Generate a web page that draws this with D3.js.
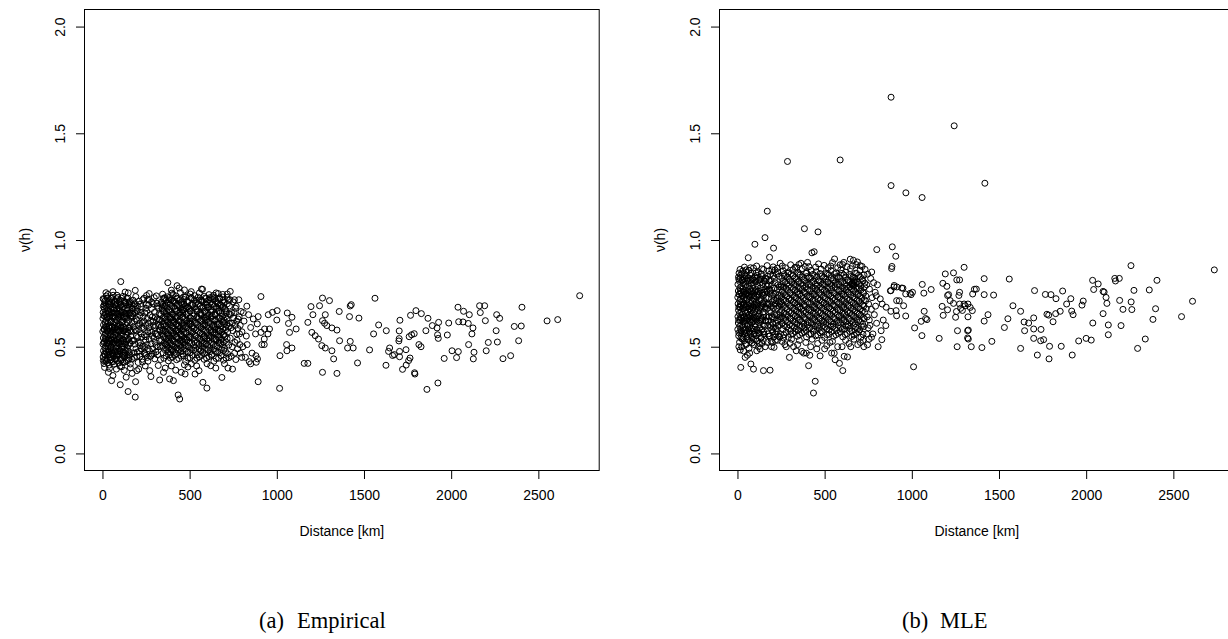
<!DOCTYPE html>
<html>
<head>
<meta charset="utf-8">
<script src="https://cdn.jsdelivr.net/npm/d3@7"></script>
<style>
  html, body { margin: 0; padding: 0; background: #fff; }
  svg { display: block; }
</style>
</head>
<body>
<svg id="chart" width="1228" height="639"></svg>
<script>
// ---- data: [distance in km, v(h)] for each station pair ----
const empirical = [
  // 0-170 km
  [8,.722],[22,.738],[35,.709],[47,.727],[61,.741],[74,.713],[88,.731],[103,.718],[118,.736],[131,.706],[146,.728],[160,.712],
  [5,.688],[14,.706],[26,.683],[33,.699],[44,.692],[53,.708],[66,.679],[72,.697],[85,.702],[96,.684],[107,.699],[121,.688],[129,.707],[140,.682],[152,.696],[166,.701],
  [4,.661],[11,.677],[19,.652],[29,.668],[38,.663],[46,.676],[57,.657],[63,.671],[77,.659],[82,.678],[94,.653],[101,.669],[113,.662],[124,.674],[133,.656],[145,.672],[158,.658],[170,.676],
  [3,.632],[12,.646],[21,.623],[27,.641],[36,.628],[43,.647],[52,.619],[60,.637],[69,.644],[79,.626],[89,.639],[98,.631],[108,.648],[117,.618],[126,.636],[137,.643],[149,.624],[161,.641],
  [6,.602],[15,.614],[23,.593],[31,.611],[40,.598],[49,.617],[55,.589],[65,.604],[73,.613],[84,.596],[92,.608],[104,.601],[111,.616],[120,.592],[131,.607],[142,.612],[155,.594],[168,.609],
  [2,.571],[10,.584],[18,.563],[25,.582],[34,.568],[42,.586],[50,.559],[59,.576],[67,.583],[76,.564],[86,.579],[95,.572],[105,.587],[114,.558],[123,.574],[134,.584],[146,.566],[159,.578],
  [5,.541],[13,.553],[20,.533],[30,.552],[37,.538],[45,.556],[54,.529],[62,.547],[71,.554],[80,.534],[90,.548],[99,.542],[109,.557],[119,.528],[128,.546],[139,.553],[150,.536],[163,.549],
  [3,.512],[11,.524],[19,.503],[28,.521],[35,.508],[44,.526],[51,.499],[61,.516],[68,.523],[78,.504],[87,.519],[97,.511],[106,.527],[116,.498],[125,.514],[136,.524],[148,.506],[157,.518],
  [6,.481],[14,.494],[24,.473],[32,.491],[41,.478],[48,.496],[58,.469],[64,.486],[75,.493],[83,.474],[93,.489],[102,.482],[112,.497],[122,.468],[132,.484],[143,.492],[154,.476],
  [4,.452],[16,.463],[25,.443],[37,.461],[47,.448],[56,.466],[70,.441],[81,.457],[91,.464],[103,.444],[115,.459],[127,.451],[140,.462],[152,.446],
  [9,.421],[22,.433],[39,.414],[53,.429],[68,.418],[85,.436],[100,.409],[118,.426],[137,.433],[160,.419],
  [4,.725],[15,.715],[28,.728],[41,.713],[54,.726],[68,.712],[81,.725],[95,.711],[110,.727],[124,.714],[139,.726],[153,.71],
  [9,.695],[20,.69],[38,.698],[59,.687],[79,.693],[101,.692],[115,.684],[135,.697],[159,.688],
  [8,.645],[16,.66],[24,.638],[33,.655],[41,.642],[50,.66],[58,.641],[67,.657],[74,.638],[86,.654],[96,.645],[106,.66],[119,.64],[130,.653],[141,.637],[153,.652],[165,.646],
  [9,.58],[17,.595],[27,.574],[37,.59],[46,.574],[56,.593],[63,.57],[71,.588],[80,.58],[90,.595],[100,.574],[108,.592],[118,.575],[127,.59],[138,.571],[151,.588],[165,.572],
  [8,.52],[16,.537],[24,.515],[33,.531],[41,.517],[49,.537],[57,.512],[66,.532],[74,.516],[85,.533],[95,.52],[103,.538],[113,.514],[122,.53],[133,.512],[145,.534],[160,.515],
  [10,.465],[19,.478],[29,.46],[36,.476],[45,.464],[53,.48],[62,.458],[72,.475],[80,.46],[88,.478],[98,.466],[108,.48],[119,.459],[130,.472],[146,.48],[158,.462],
  [13,.437],[30,.425],[46,.438],[62,.43],[77,.442],[94,.424],[109,.438],[127,.428],[147,.436],
  // 170-335 km
  [175,.718],[188,.702],[197,.668],[210,.713],[224,.688],[238,.727],[252,.698],[268,.721],[281,.679],
  [172,.641],[185,.659],[199,.622],[214,.647],[229,.611],[243,.658],[258,.632],[274,.649],[290,.618],
  [178,.592],[193,.574],[207,.601],[221,.561],[236,.586],[250,.547],[266,.589],[283,.568],
  [171,.528],[186,.512],[202,.543],[217,.519],[232,.502],[247,.531],[262,.491],[279,.514],[295,.539],
  [180,.471],[196,.454],[212,.479],[228,.441],[245,.466],[261,.432],[277,.456],[294,.468],[170,.442],[205,.426],
  [298,.661],[305,.598],[312,.703],[318,.552],[325,.629],[331,.501],[302,.521],[309,.738],[316,.462],[322,.681],[328,.578],[300,.443],[320,.412],
  [177,.69],[183,.62],[191,.735],[195,.55],[204,.665],[209,.58],[218,.70],[223,.49],[233,.64],[240,.555],[249,.68],[256,.51],[264,.61],[272,.575],[286,.64],
  [292,.70],[300,.59],[307,.475],[314,.63],[327,.53],[334,.70],[182,.45],[215,.455],[250,.46],[288,.49],[333,.44],[192,.49],[226,.59],[259,.72],[311,.56],
  [174,.655],[181,.70],[187,.58],[194,.63],[201,.69],[206,.52],[213,.61],[220,.66],[226,.545],[231,.72],[237,.62],[242,.50],[248,.60],[254,.665],[260,.57],
  [265,.695],[270,.48],[276,.62],[282,.71],[287,.55],[293,.60],[297,.73],[303,.64],[308,.505],[315,.69],[321,.60],[326,.655],[332,.575],[180,.53],[199,.475],
  [216,.505],[239,.47],[257,.45],[268,.535],[284,.465],[304,.56],[318,.50],[329,.625],[189,.675],[253,.74],
  [105,.805],[31,.745],[60,.758],[83,.741],[148,.752],[130,.756],[188,.764],[268,.749],[20,.753],
  [5,.435],[12,.403],[34,.38],[52,.341],[102,.322],[147,.29],[188,.264],[190,.336],[136,.357],[197,.388],[208,.395],[271,.388],[278,.36],
  [160,.401],[110,.406],[60,.365],[80,.395],[230,.428],[245,.41],[40,.398],[125,.389],[170,.375],
  // 335-740 km
  [345,.746],[372,.734],[398,.751],[421,.738],[447,.754],[476,.733],[503,.747],[529,.739],[556,.752],[584,.736],[611,.744],[637,.741],[664,.749],[690,.733],[716,.747],
  [338,.709],[356,.726],[377,.703],[393,.719],[411,.712],[430,.724],[452,.706],[468,.721],[489,.708],[511,.727],[534,.704],[552,.718],[573,.711],[595,.726],[616,.703],[633,.721],[655,.709],[674,.723],[697,.706],[722,.718],
  [342,.681],[361,.694],[380,.674],[399,.692],[417,.678],[437,.697],[457,.673],[474,.691],[496,.679],[517,.694],[538,.676],[559,.689],[579,.682],[600,.696],[621,.674],[640,.688],[661,.681],[681,.693],[703,.677],[728,.691],
  [336,.652],[353,.664],[371,.643],[389,.661],[406,.648],[424,.667],[443,.646],[461,.658],[482,.651],[503,.666],[524,.644],[544,.662],[565,.649],[586,.663],[605,.646],[626,.661],[647,.648],[667,.666],[688,.643],[710,.659],[735,.651],
  [340,.621],[358,.636],[375,.614],[392,.632],[410,.618],[428,.637],[447,.616],[465,.628],[486,.622],[507,.634],[528,.613],[548,.631],[569,.619],[590,.637],[610,.614],[630,.628],[651,.623],[672,.633],[692,.616],[714,.629],
  [337,.592],[355,.604],[372,.583],[390,.601],[407,.588],[425,.606],[444,.586],[463,.598],[483,.591],[504,.607],[525,.584],[545,.602],[566,.589],[587,.603],[607,.586],[628,.599],[648,.592],[669,.606],[690,.583],[712,.601],[738,.589],
  [341,.561],[359,.574],[376,.553],[394,.572],[412,.558],[430,.576],[449,.556],[467,.568],[488,.562],[509,.574],[530,.554],[550,.571],[571,.559],[592,.577],[612,.553],[633,.568],[654,.562],[675,.574],[696,.556],[718,.569],
  [339,.531],[357,.544],[374,.523],[392,.541],[409,.528],[427,.546],[446,.526],[465,.538],[485,.532],[506,.547],[527,.524],[547,.541],[568,.529],[589,.543],[609,.526],[630,.539],[650,.532],[671,.546],[693,.523],[715,.538],
  [344,.502],[362,.514],[379,.493],[397,.511],[414,.498],[433,.516],[451,.496],[470,.508],[491,.502],[512,.517],[533,.494],[553,.511],[574,.499],[595,.513],[615,.496],[636,.509],[657,.502],[678,.516],[700,.493],[724,.508],
  [348,.471],[368,.486],[387,.463],[405,.481],[423,.468],[441,.487],[461,.466],[481,.478],[502,.472],[523,.484],[544,.463],[565,.481],[586,.469],[607,.486],[628,.464],[650,.478],[672,.472],[695,.483],[718,.466],
  [352,.446],[378,.434],[401,.451],[425,.439],[452,.456],[477,.431],[503,.447],[529,.436],[556,.452],[583,.441],[611,.454],[639,.432],[666,.446],[694,.437],[725,.449],
  [349,.726],[366,.718],[385,.731],[405,.715],[426,.727],[446,.72],[466,.733],[487,.716],[508,.729],[528,.719],[549,.732],[570,.716],[590,.728],[611,.72],[631,.733],[652,.716],[673,.728],[694,.719],[715,.731],
  [347,.697],[368,.686],[388,.699],[408,.684],[428,.697],[448,.687],[468,.70],[489,.685],[510,.697],[530,.688],[551,.701],[571,.684],[592,.697],[612,.687],[632,.70],[653,.685],[674,.697],[695,.688],[716,.701],
  [345,.667],[364,.655],[384,.669],[403,.654],[422,.666],[442,.657],[462,.67],[482,.653],[502,.667],[523,.656],[543,.669],[564,.654],[584,.666],[604,.657],[625,.67],[645,.653],[666,.667],[686,.656],[707,.669],[728,.654],
  [349,.637],[367,.626],[386,.64],[405,.624],[424,.637],[443,.627],[462,.639],[482,.625],[502,.637],[522,.628],[542,.64],[563,.624],[583,.637],[603,.627],[624,.639],[644,.625],[665,.637],[685,.628],[706,.64],
  [346,.607],[365,.596],[383,.609],[402,.594],[420,.606],[439,.597],[458,.61],[477,.595],[497,.607],[517,.598],[537,.611],[557,.594],[577,.606],[597,.597],[618,.609],[638,.595],[659,.607],[680,.598],[701,.61],[724,.596],
  [350,.577],[368,.566],[386,.579],[404,.564],[422,.577],[440,.567],[459,.58],[478,.565],[498,.577],[518,.568],[539,.58],[560,.564],[580,.577],[601,.567],[622,.579],[643,.565],[664,.577],[685,.568],[707,.58],
  [348,.547],[366,.536],[384,.549],[401,.534],[419,.546],[437,.537],[455,.55],[475,.535],[495,.547],[516,.538],[537,.55],[557,.534],[578,.546],[599,.537],[619,.549],[640,.535],[661,.547],[682,.538],[704,.55],
  [352,.517],[370,.506],[388,.519],[406,.504],[424,.516],[442,.507],[461,.52],[480,.505],[501,.517],[522,.508],[543,.52],[563,.504],[584,.516],[605,.507],[626,.519],[647,.505],[668,.517],[689,.508],[711,.52],
  [356,.487],[377,.476],[396,.489],[414,.474],[432,.486],[451,.477],[471,.49],[491,.475],[512,.487],[533,.478],[554,.49],[575,.474],[596,.486],[617,.477],[639,.489],[661,.475],[683,.487],[706,.478],
  [365,.458],[390,.447],[413,.46],[438,.445],[464,.458],[490,.447],[516,.46],[542,.446],[569,.459],[597,.447],[625,.46],[652,.445],[680,.458],[709,.447],
  [350,.69],[366,.60],[383,.72],[401,.55],[419,.64],[436,.58],[455,.70],[472,.52],[493,.66],[515,.59],[364,.51],[386,.63],[405,.745],[428,.495],[448,.56],[466,.675],[484,.61],
  [347,.575],[369,.665],[395,.485],[414,.705],[439,.62],[458,.53],[477,.735],[498,.545],[357,.73],[381,.54],[403,.61],[422,.575],[445,.665],[463,.585],[480,.68],[500,.62],[517,.70],
  [562,.66],[578,.595],[596,.71],[612,.54],[629,.645],[645,.58],[662,.70],[679,.53],[698,.625],[571,.515],[589,.625],[604,.685],[622,.57],[641,.725],[659,.605],[676,.66],[694,.555],
  [566,.72],[584,.55],[600,.64],[618,.73],[637,.60],[653,.535],[670,.575],[688,.685],[706,.59],
  [728,.61],[733,.54],[741,.66],[744,.50],[748,.575],[752,.635],[758,.47],[762,.60],[767,.69],[772,.53],[777,.585],[784,.64],[788,.51],[795,.665],[799,.45],
  [731,.72],[739,.455],[757,.72],[769,.62],[786,.56],
  [375,.80],[428,.786],[574,.769],[509,.758],[733,.759],[652,.752],[470,.766],[568,.77],[690,.745],[440,.775],[395,.765],
  [328,.344],[385,.349],[407,.341],[434,.274],[443,.255],[452,.38],[474,.372],[531,.372],[554,.388],[576,.333],[599,.306],[621,.411],[685,.356],[746,.395],
  [360,.40],[395,.41],[420,.39],[490,.405],[510,.42],[540,.41],[600,.42],[650,.40],[700,.42],[720,.40],[350,.38],[470,.415],
  // 740-1400 km
  [755,.66],[763,.68],[778,.63],[790,.60],[800,.57],[812,.62],[825,.55],[838,.65],[850,.59],[760,.52],[775,.49],[790,.47],[805,.50],[820,.45],[842,.43],[858,.47],
  [770,.56],[745,.61],[750,.71],[782,.72],[808,.66],[828,.69],[865,.63],[830,.51],[850,.42],[765,.44],
  [909,.735],[893,.641],[888,.607],[951,.65],[975,.661],[1002,.669],[1000,.625],[909,.567],[930,.583],[949,.56],[958,.583],[878,.56],[928,.536],[914,.51],[928,.51],
  [880,.458],[882,.427],[889,.443],[893,.336],[1016,.305],[1018,.458],[1060,.658],[1067,.609],[1073,.567],[1111,.583],[1087,.638],[1056,.51],[1058,.481],[1087,.494],
  [1157,.422],[1178,.422],[1196,.688],[1245,.692],[1262,.728],[1302,.716],[1178,.614],[1207,.65],[1278,.65],[1262,.622],[1274,.61],[1287,.599],[1316,.588],[1345,.578],
  [1201,.567],[1220,.552],[1239,.536],[1258,.505],[1278,.494],[1316,.481],[1326,.443],[1262,.38],[1345,.375],[1358,.665],[1360,.528],
  // beyond 1400 km
  [2737,.739],[2611,.627],[2550,.621],[2406,.685],[2402,.597],[2387,.528],[2362,.595],[2341,.458],[2297,.444],[2278,.633],[2265,.522],[2261,.65],[2258,.575],
  [2213,.52],[2201,.481],[2196,.622],[2192,.692],[2167,.66],[2163,.692],[2131,.474],[2127,.443],[2125,.588],[2119,.56],[2104,.65],[2100,.51],[2098,.609],
  [2071,.666],[2068,.616],[2043,.617],[2041,.477],[2039,.685],[2031,.449],[2005,.481],[1986,.611],[1978,.555],[1960,.445],[1928,.614],[1926,.539],[1924,.33],
  [1922,.556],[1919,.588],[1892,.599],[1867,.633],[1861,.30],[1855,.575],[1829,.655],[1827,.50],[1815,.51],[1798,.669],[1792,.372],[1790,.378],[1788,.561],
  [1773,.556],[1767,.647],[1764,.447],[1759,.547],[1756,.435],[1742,.414],[1741,.486],[1721,.394],[1706,.624],[1704,.478],[1704,.453],[1702,.574],[1702,.538],
  [1700,.527],[1674,.463],[1664,.459],[1647,.494],[1641,.478],[1628,.575],[1626,.413],[1584,.602],[1563,.727],[1555,.56],[1532,.485],[1471,.634],[1463,.424],
  [1438,.494],[1427,.697],[1421,.691],[1421,.525],[1417,.641],[1406,.494]
];

const mle = [
  // 0-170 km
  [6,.826],[19,.837],[31,.814],[44,.831],[58,.819],[71,.836],[85,.813],[99,.827],[113,.834],[128,.816],[144,.829],[161,.821],
  [3,.792],[12,.806],[24,.784],[35,.801],[46,.789],[57,.807],[68,.783],[80,.798],[91,.792],[104,.804],[117,.786],[130,.799],[143,.791],[157,.806],[170,.784],
  [5,.761],[14,.776],[22,.754],[32,.771],[41,.758],[50,.777],[61,.753],[70,.769],[79,.762],[89,.774],[100,.756],[109,.768],[120,.761],[132,.776],[145,.753],[158,.771],[168,.759],
  [2,.731],[10,.746],[18,.724],[27,.741],[37,.728],[45,.747],[55,.723],[64,.738],[74,.732],[83,.744],[94,.726],[103,.739],[112,.731],[124,.746],[137,.723],[150,.741],[163,.729],
  [4,.701],[13,.716],[21,.694],[30,.711],[39,.698],[48,.717],[58,.693],[67,.708],[77,.702],[86,.714],[96,.696],[106,.709],[116,.701],[127,.716],[140,.693],[153,.711],[166,.699],
  [6,.671],[15,.686],[24,.664],[33,.681],[42,.668],[52,.687],[60,.663],[71,.678],[80,.672],[90,.684],[99,.666],[110,.679],[121,.671],[134,.686],[147,.663],[160,.681],
  [3,.641],[11,.656],[20,.634],[29,.651],[38,.638],[47,.657],[56,.633],[65,.648],[75,.642],[84,.654],[93,.636],[103,.649],[114,.641],[125,.656],[138,.633],[151,.651],[165,.639],
  [5,.611],[16,.626],[25,.604],[35,.621],[44,.608],[54,.627],[63,.603],[73,.618],[82,.612],[92,.624],[101,.606],[111,.619],[123,.611],[136,.626],[149,.603],[162,.621],
  [2,.581],[13,.596],[23,.574],[34,.591],[46,.578],[57,.597],[68,.573],[79,.588],[91,.582],[102,.594],[115,.576],[128,.589],[141,.581],[155,.596],
  [7,.551],[19,.566],[31,.544],[43,.561],[55,.548],[68,.567],[81,.543],[95,.558],[108,.552],[122,.564],[137,.546],[152,.559],
  [12,.521],[28,.536],[46,.514],[63,.531],[84,.518],[104,.534],[126,.516],[148,.529],
  [9,.845],[27,.842],[52,.848],[79,.844],[107,.846],[136,.841],
  [8,.815],[17,.822],[28,.812],[40,.818],[51,.81],[63,.823],[75,.811],[87,.819],[97,.81],[110,.821],[123,.812],[137,.818],[151,.81],[165,.816],
  [9,.745],[17,.76],[26,.738],[36,.755],[47,.741],[58,.762],[69,.744],[81,.756],[92,.738],[104,.761],[116,.743],[128,.758],[142,.741],[156,.755],
  [8,.685],[17,.70],[27,.678],[36,.695],[46,.683],[56,.701],[66,.678],[76,.69],[88,.68],[98,.70],[109,.686],[119,.695],[131,.679],[143,.703],[157,.688],
  [7,.625],[18,.64],[28,.618],[39,.635],[50,.62],[60,.64],[70,.625],[80,.634],[90,.618],[100,.637],[110,.628],[121,.643],[133,.62],[146,.638],[159,.624],
  [8,.565],[18,.58],[29,.56],[40,.575],[51,.565],[62,.582],[73,.559],[86,.573],[98,.566],[111,.58],[124,.562],[138,.576],[150,.57],
  [20,.54],[38,.528],[57,.538],[75,.525],[92,.535],[113,.527],[135,.54],
  [171,1.135],[158,1.011],[100,.98],[207,.962],[62,.917],[184,.919],[92,.869],[30,.855],[50,.86],[120,.85],[140,.865],[75,.87],
  [19,.403],[92,.395],[149,.388],[187,.39],[77,.419],[44,.45],[35,.48],[57,.46],[111,.481],[130,.49],[159,.50],[210,.497],[25,.50],[70,.47],
  // 170-250 km
  [175,.70],[182,.64],[190,.76],[197,.58],[205,.68],[212,.82],[220,.61],[228,.73],[236,.55],[244,.66],[178,.79],[186,.55],[194,.69],
  [202,.61],[209,.745],[217,.53],[225,.65],[233,.79],[241,.60],[248,.71],[174,.60],[188,.84],[200,.52],[214,.70],[231,.85],[246,.56],
  [172,.83],[179,.73],[185,.67],[193,.81],[199,.74],[206,.63],[211,.775],[219,.69],[224,.84],[230,.62],[235,.71],[240,.78],[245,.64],[249,.74],
  [176,.56],[183,.77],[196,.64],[203,.57],[218,.75],[238,.69],[227,.57],[191,.60],
  [171,.765],[173,.68],[177,.62],[180,.81],[184,.70],[187,.59],[189,.75],[192,.66],[195,.79],[198,.71],[201,.64],[204,.83],[207,.59],[210,.72],[213,.65],
  [216,.80],[219,.56],[222,.715],[226,.68],[229,.77],[232,.60],[234,.74],[237,.65],[239,.83],[242,.70],[247,.63],[250,.78],[181,.55],[193,.525],[208,.545],
  [221,.585],[243,.545],[215,.86],[198,.86],[180,.855],
  // 250-740 km
  [262,.856],[290,.844],[318,.861],[346,.849],[371,.866],[397,.846],[423,.858],[452,.851],[480,.864],[508,.843],[537,.857],[565,.846],[593,.861],[621,.849],[648,.866],[676,.844],[703,.859],
  [255,.821],[276,.834],[297,.816],[318,.831],[338,.818],[359,.836],[379,.814],[400,.829],[421,.822],[442,.834],[463,.813],[484,.831],[505,.819],[526,.837],[547,.814],[568,.828],[589,.821],[610,.836],[631,.813],[652,.829],[673,.822],[694,.834],[716,.817],
  [252,.791],[272,.804],[292,.783],[312,.801],[333,.788],[353,.806],[374,.786],[394,.798],[415,.792],[436,.807],[456,.784],[477,.801],[498,.789],[519,.803],[540,.786],[561,.799],[582,.792],[603,.806],[624,.783],[645,.801],[666,.789],[687,.804],[708,.786],[730,.798],
  [258,.761],[279,.774],[300,.753],[321,.772],[342,.758],[362,.776],[383,.756],[404,.768],[425,.762],[446,.774],[467,.754],[488,.771],[509,.759],[530,.777],[551,.753],[572,.768],[593,.762],[614,.774],[635,.756],[656,.771],[677,.758],[698,.776],[720,.754],
  [253,.731],[274,.744],[295,.723],[316,.741],[337,.728],[357,.746],[378,.726],[399,.738],[420,.732],[441,.747],[461,.724],[482,.741],[503,.729],[524,.743],[545,.726],[566,.739],[587,.732],[608,.746],[629,.723],[650,.741],[671,.729],[692,.744],[713,.726],[736,.738],
  [257,.701],[278,.714],[299,.693],[320,.711],[341,.698],[361,.716],[382,.696],[403,.708],[424,.702],[445,.717],[466,.694],[487,.711],[508,.699],[529,.713],[550,.696],[571,.709],[592,.702],[613,.716],[634,.693],[655,.711],[676,.699],[697,.714],[718,.696],
  [254,.671],[275,.684],[296,.663],[317,.681],[338,.668],[358,.686],[379,.666],[400,.678],[421,.672],[442,.687],[463,.664],[484,.681],[505,.669],[526,.683],[547,.666],[568,.679],[589,.672],[610,.686],[631,.663],[652,.681],[673,.669],[694,.684],[716,.666],[739,.678],
  [259,.641],[280,.654],[301,.633],[322,.651],[343,.638],[363,.656],[384,.636],[405,.648],[426,.642],[447,.657],[468,.634],[489,.651],[510,.639],[531,.653],[552,.636],[573,.649],[594,.642],[615,.656],[636,.633],[657,.651],[678,.639],[699,.654],[721,.636],
  [256,.611],[277,.624],[298,.603],[319,.621],[340,.608],[360,.626],[381,.606],[402,.618],[423,.612],[444,.627],[465,.604],[486,.621],[507,.609],[528,.623],[549,.606],[570,.619],[591,.612],[612,.626],[633,.603],[654,.621],[675,.609],[696,.624],[718,.606],
  [261,.581],[283,.594],[305,.573],[327,.591],[349,.578],[371,.596],[393,.576],[415,.588],[437,.582],[459,.597],[481,.574],[503,.591],[525,.579],[547,.593],[569,.576],[591,.589],[613,.582],[635,.596],[657,.573],[679,.591],[701,.579],[724,.594],
  [266,.556],[292,.544],[318,.561],[344,.549],[370,.564],[396,.546],[422,.559],[448,.551],[474,.566],[500,.543],[526,.558],[552,.549],[578,.563],[604,.546],[630,.561],[656,.548],[682,.564],[708,.544],
  [266,.838],[287,.826],[309,.842],[329,.824],[350,.839],[372,.827],[392,.844],[411,.825],[433,.839],[455,.828],[474,.843],[495,.826],[516,.84],[538,.823],[557,.841],[579,.829],[600,.844],[620,.826],[641,.838],[663,.827],[684,.843],[705,.826],[726,.836],
  [262,.806],[283,.795],[303,.809],[323,.792],[344,.804],[364,.796],[385,.81],[406,.791],[426,.803],[447,.794],[467,.808],[488,.793],[509,.805],[530,.795],[551,.809],[572,.791],[592,.804],[614,.796],[635,.81],[655,.792],[677,.803],[698,.794],[719,.808],
  [267,.778],[288,.765],[309,.779],[330,.764],[351,.776],[371,.767],[392,.781],[414,.763],[435,.777],[456,.766],[477,.779],[498,.764],[519,.776],[540,.767],[561,.78],[582,.763],[603,.777],[624,.766],[645,.779],[666,.764],[687,.776],[709,.767],[729,.781],
  [263,.748],[284,.735],[305,.749],[326,.734],[347,.746],[367,.737],[388,.751],[409,.733],[430,.747],[451,.736],[472,.749],[493,.734],[514,.746],[535,.737],[556,.751],[577,.733],[598,.747],[619,.736],[640,.749],[661,.734],[682,.746],[703,.737],[724,.751],
  [266,.718],[287,.705],[308,.719],[329,.704],[350,.716],[370,.707],[391,.721],[412,.703],[433,.717],[454,.706],[475,.719],[496,.704],[517,.716],[538,.707],[559,.721],[580,.703],[601,.717],[622,.706],[643,.719],[664,.704],[685,.716],[706,.707],[727,.721],
  [263,.688],[284,.675],[305,.689],[326,.674],[347,.686],[367,.677],[388,.691],[409,.673],[430,.687],[451,.676],[472,.689],[493,.674],[514,.686],[535,.677],[556,.691],[577,.673],[598,.687],[619,.676],[640,.689],[661,.674],[682,.686],[703,.677],[725,.691],
  [268,.658],[289,.645],[310,.659],[331,.644],[352,.656],[372,.647],[393,.661],[414,.643],[435,.657],[456,.646],[477,.659],[498,.644],[519,.656],[540,.647],[561,.661],[582,.643],[603,.657],[624,.646],[645,.659],[666,.644],[687,.656],[708,.647],[730,.661],
  [265,.628],[286,.615],[307,.629],[328,.614],[349,.626],[369,.617],[390,.631],[411,.613],[432,.627],[453,.616],[474,.629],[495,.614],[516,.626],[537,.617],[558,.631],[579,.613],[600,.627],[621,.616],[642,.629],[663,.614],[684,.626],[705,.617],[727,.631],
  [271,.598],[293,.585],[315,.599],[337,.584],[359,.596],[381,.587],[403,.601],[425,.583],[447,.597],[469,.586],[491,.599],[513,.584],[535,.596],[557,.587],[579,.601],[601,.583],[623,.597],[645,.586],[667,.599],[689,.584],[711,.596],
  [279,.568],[305,.557],[331,.571],[357,.556],[383,.569],[409,.558],[435,.572],[461,.555],[487,.57],[513,.557],[539,.571],[565,.556],[591,.569],[617,.558],[643,.572],[669,.555],[695,.57],[720,.558],
  [660,.80],[665,.79],[670,.805],[663,.785],[668,.81],[658,.795],
  [15,.862],[40,.873],[66,.858],[110,.878],[150,.862],[170,.88],[205,.874],[228,.868],[257,.878],[275,.87],[305,.884],[330,.872],[352,.885],[388,.876],
  [402,.895],[448,.873],[497,.881],[535,.878],[545,.894],[575,.87],[603,.885],[628,.875],[659,.878],[688,.897],[715,.876],[732,.862],
  [8,.50],[16,.485],[50,.51],[66,.492],[96,.51],[120,.50],[140,.515],[172,.52],[195,.50],[230,.53],[255,.525],[272,.51],[310,.535],[322,.50],[355,.53],
  [392,.52],[428,.535],[455,.49],[485,.53],[512,.505],[545,.525],[575,.50],[620,.53],[640,.515],[668,.535],[705,.52],[725,.50],[395,.47],[540,.47],[612,.455],
  [735,.715],[741,.79],[744,.64],[747,.84],[752,.70],[757,.77],[760,.60],[764,.82],[768,.675],[772,.73],[777,.56],[781,.80],[785,.65],[790,.755],[742,.56],
  [755,.535],[770,.85],[792,.69],[798,.61],[803,.79],
  [364,.891],[427,.94],[440,.945],[557,.911],[589,.884],[647,.91],[665,.905],[704,.88],[245,.891],[293,.85],[465,.888],[384,1.053],[462,1.038],[287,1.368],[589,1.375],
  [520,.87],[410,.875],[340,.87],[680,.885],[610,.895],
  [264,.541],[302,.516],[337,.481],[369,.478],[298,.45],[408,.411],[474,.457],[560,.439],[585,.422],[604,.388],[631,.452],[446,.338],[436,.283],
  [380,.47],[420,.50],[500,.49],[530,.52],[650,.50],[690,.51],[720,.53],[345,.51],[460,.515],[600,.50],[555,.47],[415,.46],[280,.50],
  // 740-1400 km
  [880,.763],[899,.787],[949,.774],[913,.716],[928,.715],[965,.747],[996,.744],[1004,.755],[1060,.792],[1069,.751],[1111,.768],[1178,.797],[1192,.841],[1239,.846],
  [1258,.813],[1274,.813],[1300,.872],[1174,.689],[1211,.744],[1220,.716],[1239,.703],[1274,.70],[1306,.692],[1335,.684],[1349,.747],[1274,.755],[1251,.638],
  [1262,.575],[1320,.575],[1320,.541],[1341,.50],[1260,.50],[1157,.539],[1058,.552],[1079,.632],[1087,.627],[1071,.666],[1054,.619],[1016,.588],[1010,.406],
  [965,.644],[913,.645],[953,.692],[910,.669],[880,.666],[853,.685],[830,.70],[819,.724],[796,.739],[836,.625],[851,.599],[824,.575],[828,.533],[807,.50],
  [756,.625],[750,.588],[769,.544],[746,.509],
  [799,.955],[888,.968],[908,.924],[886,.876],[884,.866],[881,1.669],[881,1.255],[966,1.221],[1059,1.199],[1243,1.535],[1419,1.266],[1201,.783],[898,.78],
  [914,.78],[942,.775],[990,.75],[877,.762],[1359,.769],[1205,.74],[1270,.74],[1280,.68],[1290,.67],[1300,.70],[1322,.70],[1322,.64],
  [1180,.647],[1205,.673],[1256,.665],[1324,.578],[1324,.536],[1347,.669],
  // beyond 1400 km
  [2735,.86],[2610,.713],[2547,.641],[2406,.811],[2398,.678],[2383,.628],[2362,.766],[2339,.536],[2295,.492],[2274,.764],[2262,.674],[2258,.71],[2257,.88],
  [2211,.675],[2200,.599],[2192,.717],[2190,.82],[2164,.82],[2168,.808],[2127,.602],[2127,.556],[2119,.703],[2114,.731],[2103,.756],[2097,.759],[2097,.655],
  [2069,.794],[2043,.768],[2037,.811],[2038,.611],[2029,.531],[2000,.539],[1957,.527],[1976,.695],[1983,.714],[1917,.667],[1925,.65],[1912,.725],[1888,.70],
  [1865,.761],[1851,.666],[1827,.725],[1825,.655],[1810,.617],[1798,.744],[1787,.443],[1790,.502],[1785,.648],[1775,.652],[1766,.745],[1756,.533],[1741,.581],
  [1739,.528],[1720,.461],[1704,.763],[1699,.539],[1699,.583],[1699,.635],[1670,.611],[1647,.575],[1644,.616],[1624,.492],[1624,.666],[1580,.692],[1559,.817],
  [1551,.631],[1531,.59],[1469,.742],[1459,.525],[1437,.65],[1415,.62],[1415,.744],[1415,.819],[1402,.496],[1370,.77],[1857,.502],[1920,.461]
];

const xTickValues = [0, 500, 1000, 1500, 2000, 2500];
const yTickValues = [0, 0.5, 1, 1.5, 2];
const xTitle = "Distance [km]";
const yTitle = "ν(h)";
const captionTags = ["(a)", "(b)"];
const captionNames = ["Empirical", "MLE"];

// ---- layout ----
const plotBox = { top: 9.5, bottom: 470.5, width: 514.7 };
const panelLeft = [84.5, 719.5];
const captionX = [{ tag: 259, name: 297 }, { tag: 902, name: 940 }];
const captionBaseline = 628;
const xLim = [-103, 2849];   // distance range widened by 4% on both sides
const yLim = [-0.08, 2.08];  // [0, 2] widened by 4%
const sansFont = "'Liberation Sans', Arial, Helvetica, sans-serif";
const serifFont = "'Liberation Serif', 'Times New Roman', serif";
const tickFontSize = 14;
const captionFontSize = 22.5;

const svg = d3.select("#chart");
svg.append("rect").attr("width", 1228).attr("height", 639).attr("fill", "#fff");

[empirical, mle].forEach((points, i) => {
  const g = svg.append("g").attr("transform", `translate(${panelLeft[i]},0)`);
  const x = d3.scaleLinear().domain(xLim).range([0, plotBox.width]);
  const y = d3.scaleLinear().domain(yLim).range([plotBox.bottom, plotBox.top]);

  // open circles, one per station pair
  g.append("g")
    .selectAll("circle")
    .data(points)
    .join("circle")
    .attr("cx", d => x(d[0]))
    .attr("cy", d => y(d[1]))
    .attr("r", 3)
    .attr("fill", "none")
    .attr("stroke", "#000")
    .attr("stroke-width", 1);

  // plot frame
  g.append("rect")
    .attr("x", 0)
    .attr("y", plotBox.top)
    .attr("width", plotBox.width)
    .attr("height", plotBox.bottom - plotBox.top)
    .attr("fill", "none")
    .attr("stroke", "#000")
    .attr("stroke-width", 1);

  // bottom axis
  const xAxis = g.append("g")
    .attr("transform", `translate(0,${plotBox.bottom})`)
    .call(d3.axisBottom(x).tickValues(xTickValues).tickFormat(d3.format("d")).tickSize(8.5).tickSizeOuter(0));
  xAxis.select(".domain").remove();
  xAxis.attr("font-family", sansFont).attr("font-size", tickFontSize);
  xAxis.selectAll("line").attr("stroke", "#000");
  xAxis.selectAll("text").attr("y", 29.5).attr("dy", null).attr("fill", "#000");

  // left axis, labels parallel to the axis
  const yAxis = g.append("g")
    .call(d3.axisLeft(y).tickValues(yTickValues).tickFormat(d3.format(".1f")).tickSize(8.5).tickSizeOuter(0));
  yAxis.select(".domain").remove();
  yAxis.attr("font-family", sansFont).attr("font-size", tickFontSize);
  yAxis.selectAll("line").attr("stroke", "#000");
  yAxis.selectAll("text")
    .attr("text-anchor", "middle")
    .attr("x", 0)
    .attr("y", -19.5)
    .attr("dy", null)
    .attr("transform", "rotate(-90)")
    .attr("fill", "#000");

  // axis titles
  g.append("text")
    .attr("x", plotBox.width / 2)
    .attr("y", 535.5)
    .attr("text-anchor", "middle")
    .attr("font-family", sansFont)
    .attr("font-size", tickFontSize)
    .attr("fill", "#000")
    .text(xTitle);

  g.append("text")
    .attr("transform", `translate(-55,${(plotBox.top + plotBox.bottom) / 2}) rotate(-90)`)
    .attr("text-anchor", "middle")
    .attr("font-family", sansFont)
    .attr("font-size", tickFontSize)
    .attr("fill", "#000")
    .text(yTitle);

  // sub-figure caption
  svg.append("text")
    .attr("x", captionX[i].tag)
    .attr("y", captionBaseline)
    .attr("font-family", serifFont)
    .attr("font-size", captionFontSize)
    .attr("fill", "#000")
    .text(captionTags[i]);
  svg.append("text")
    .attr("x", captionX[i].name)
    .attr("y", captionBaseline)
    .attr("font-family", serifFont)
    .attr("font-size", captionFontSize)
    .attr("fill", "#000")
    .text(captionNames[i]);
});
</script>
</body>
</html>
